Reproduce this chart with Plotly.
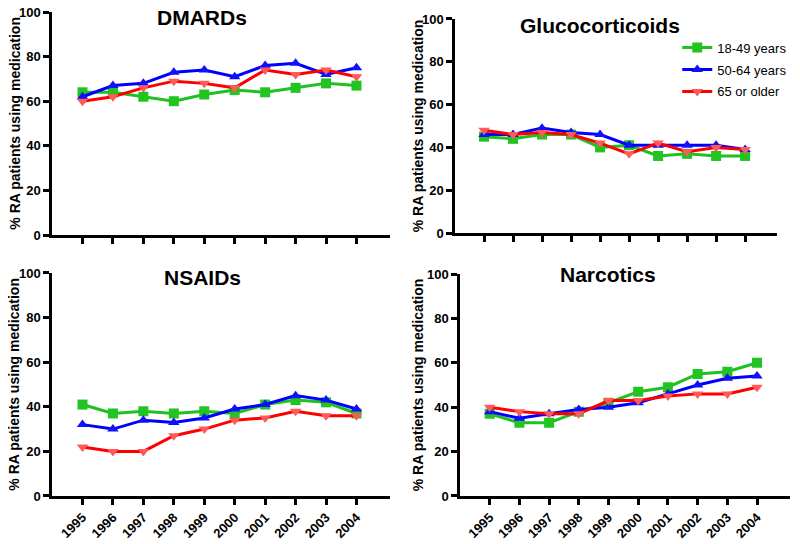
import plotly.graph_objects as go

# data
years = [1995, 1996, 1997, 1998, 1999, 2000, 2001, 2002, 2003, 2004]
groups = ["18-49 years", "50-64 years", "65 or older"]

dmards_1849 = [64, 64, 62, 60, 63, 65, 64, 66, 68, 67]
dmards_5064 = [62, 67, 68, 73, 74, 71, 76, 77, 72, 75]
dmards_65 = [60, 62, 66, 69, 68, 66, 74, 72, 74, 71]

gluco_1849 = [45, 44, 46, 46, 40, 41, 36, 37, 36, 36]
gluco_5064 = [46, 46, 49, 47, 46, 41, 41, 41, 41, 39]
gluco_65 = [48, 46, 47, 46, 42, 37, 42, 38, 40, 39]

nsaid_1849 = [41, 37, 38, 37, 38, 37, 41, 43, 42, 37]
nsaid_5064 = [32, 30, 34, 33, 35, 39, 41, 45, 43, 39]
nsaid_65 = [22, 20, 20, 27, 30, 34, 35, 38, 36, 36]

narc_1849 = [37, 33, 33, 38, 42, 47, 49, 55, 56, 60]
narc_5064 = [38, 35, 37, 39, 40, 42, 46, 50, 53, 54]
narc_65 = [40, 38, 37, 37, 43, 43, 45, 46, 46, 49]

panels = [
    ("DMARDs", [dmards_1849, dmards_5064, dmards_65]),
    ("Glucocorticoids", [gluco_1849, gluco_5064, gluco_65]),
    ("NSAIDs", [nsaid_1849, nsaid_5064, nsaid_65]),
    ("Narcotics", [narc_1849, narc_5064, narc_65]),
]

line_cols = ["#1fc01f", "#0000ff", "#ff0000"]
mark_cols = ["#22c422", "#1010ff", "#ff5a5a"]
symbols = ["square", "triangle-up", "triangle-down"]

# page has an 8px body margin, so the figure is 792x536 and placed at (8, 8)
W, H = 792, 536
xdoms = [[0.0556, 0.4823], [0.5644, 0.971], [0.0556, 0.4823], [0.5707, 0.987]]
ydoms = [[0.5765, 0.9925], [0.5802, 0.9795], [0.0896, 0.5056], [0.0896, 0.5037]]
title_pos = [(0.245, 0.983), (0.7475, 0.968), (0.245, 0.498), (0.7576, 0.502)]
ytitle_x = [0.0078, 0.518, 0.0078, 0.518]

fig = go.Figure()
font = "Liberation Sans, Arial, sans-serif"

for i, (name, series) in enumerate(panels):
    ax = "" if i == 0 else str(i + 1)
    for j, vals in enumerate(series):
        fig.add_trace(go.Scatter(
            x=years, y=vals, name=groups[j], mode="lines+markers",
            xaxis="x" + ax, yaxis="y" + ax,
            line=dict(color=line_cols[j], width=3),
            marker=dict(symbol=symbols[j], size=10, color=mark_cols[j]),
            showlegend=(i == 1), legendgroup=groups[j]))
    bottom = i >= 2
    fig.layout["xaxis" + ax] = dict(
        domain=xdoms[i], anchor="y" + ax, range=[1994, 2005.1], automargin=False,
        tickmode="array", tickvals=years, ticklabeloverflow="allow",
        ticktext=[str(y) for y in years] if bottom else [""] * len(years),
        tickangle=-45, ticks="outside", ticklen=6, tickwidth=2.5, tickcolor="black",
        showline=True, linecolor="black", linewidth=2.5, showgrid=False,
        zeroline=False, tickfont=dict(family=font, size=13, color="black", weight="bold"))
    fig.layout["yaxis" + ax] = dict(
        domain=ydoms[i], anchor="x" + ax, range=[0, 100], automargin=False,
        tickmode="array", tickvals=[0, 20, 40, 60, 80, 100], ticklabeloverflow="allow",
        ticks="outside", ticklen=6, tickwidth=2.5, tickcolor="black",
        showline=True, linecolor="black", linewidth=2.5, showgrid=False,
        zeroline=False, tickfont=dict(family=font, size=13, color="black", weight="bold"))
    fig.add_annotation(text="<b>" + name + "</b>", x=title_pos[i][0], y=title_pos[i][1],
                       xref="paper", yref="paper", showarrow=False,
                       xanchor="center", yanchor="middle",
                       font=dict(family=font, size=21, color="black"))
    fig.add_annotation(text="<b>% RA patients using medication</b>", x=ytitle_x[i],
                       y=sum(ydoms[i]) / 2, xref="paper", yref="paper",
                       xanchor="center", yanchor="middle",
                       showarrow=False, textangle=-90,
                       font=dict(family=font, size=14, color="black"))

fig.update_layout(
    width=W, height=H, margin=dict(l=0, r=0, t=0, b=0),
    plot_bgcolor="white", paper_bgcolor="white",
    legend=dict(x=0.845, y=0.954, xanchor="left", yanchor="top",
                font=dict(family=font, size=13, color="black"),
                bgcolor="rgba(0,0,0,0)", tracegroupgap=2, itemwidth=30),
)

fig.write_html("out.html")
